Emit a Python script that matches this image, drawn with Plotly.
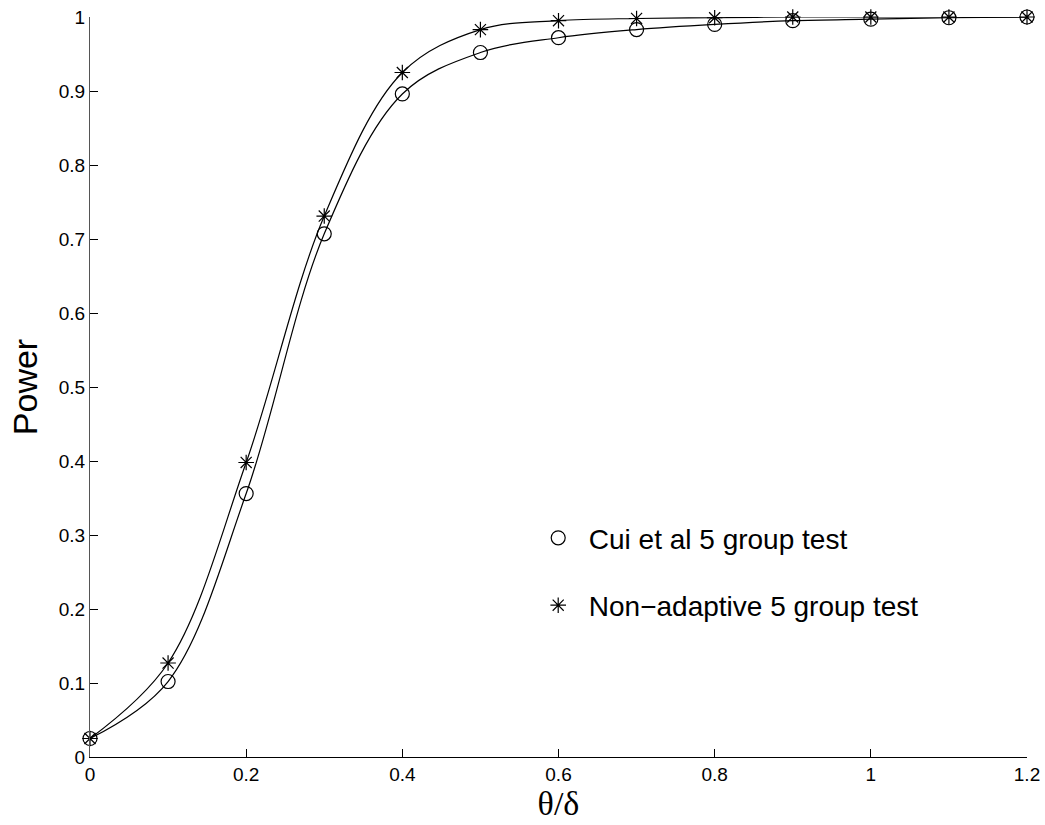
import plotly.graph_objects as go

theta = [0.0, 0.1, 0.2, 0.3, 0.4, 0.5, 0.6, 0.7, 0.8, 0.9, 1.0, 1.1, 1.2]
cui_power = [0.025, 0.102, 0.356, 0.707, 0.896, 0.952, 0.972, 0.983, 0.990, 0.995, 0.997, 0.999, 1.0]
nonadaptive_power = [0.025, 0.127, 0.398, 0.731, 0.925, 0.983, 0.995, 0.998, 0.999, 1.0, 1.0, 1.0, 1.0]

x_ticks = [0, 0.2, 0.4, 0.6, 0.8, 1, 1.2]
x_tick_labels = ["0", "0.2", "0.4", "0.6", "0.8", "1", "1.2"]
y_ticks = [0, 0.1, 0.2, 0.3, 0.4, 0.5, 0.6, 0.7, 0.8, 0.9, 1]
y_tick_labels = ["0", "0.1", "0.2", "0.3", "0.4", "0.5", "0.6", "0.7", "0.8", "0.9", "1"]

SANS = "Liberation Sans"
SERIF = "Liberation Serif"

fig = go.Figure()

# smooth curves
fig.add_trace(go.Scatter(x=theta, y=cui_power, mode="lines",
                         line=dict(color="black", width=1.2, shape="spline", smoothing=1.0),
                         showlegend=False, hoverinfo="skip", cliponaxis=False))
fig.add_trace(go.Scatter(x=theta, y=nonadaptive_power, mode="lines",
                         line=dict(color="black", width=1.2, shape="spline", smoothing=1.0),
                         showlegend=False, hoverinfo="skip", cliponaxis=False))

# markers
fig.add_trace(go.Scatter(x=theta, y=cui_power, mode="markers", name="\u2009Cui et al 5 group test",
                         legendgroup="a", cliponaxis=False,
                         marker=dict(symbol="circle-open", size=14, color="black",
                                     line=dict(width=1.2, color="black"))))
fig.add_trace(go.Scatter(x=theta, y=nonadaptive_power, mode="markers", name="\u2009Non\u2212adaptive 5 group test",
                         legendgroup="b", cliponaxis=False,
                         marker=dict(symbol="asterisk-open", size=13, color="black",
                                     line=dict(width=1.2, color="black"))))

fig.update_layout(
    width=1045, height=825,
    margin=dict(l=90, r=18, t=17, b=68, autoexpand=False),
    paper_bgcolor="white", plot_bgcolor="white",
    font=dict(family=SANS, color="black"),
    legend=dict(x=0.473, y=0.3296, xanchor="left", yanchor="top",
                font=dict(size=28, family=SANS),
                bgcolor="rgba(0,0,0,0)", traceorder="grouped", tracegroupgap=28,
                itemwidth=40, itemsizing="trace"),
    xaxis=dict(range=[0, 1.2], tickvals=x_ticks, ticktext=x_tick_labels,
               ticks="inside", ticklen=8, tickcolor="black", tickwidth=1,
               showline=True, linecolor="black", linewidth=1, mirror=False,
               showgrid=False, zeroline=False, automargin=False,
               tickfont=dict(size=19, family=SANS),
               title=dict(text="\u03b8/\u03b4", font=dict(size=34, family=SERIF),
                          standoff=4)),
    yaxis=dict(range=[0, 1], tickvals=y_ticks, ticktext=y_tick_labels,
               ticks="inside", ticklen=8, tickcolor="black", tickwidth=1,
               showline=True, linecolor="#555555", linewidth=1, mirror=False,
               showgrid=False, zeroline=False, automargin=False,
               tickfont=dict(size=19, family=SANS),
               title=dict(text="Power", font=dict(size=34, family=SANS), standoff=10)),
)

fig.write_html("out.html", config={"displayModeBar": False},
               post_script="document.body.style.margin='0';document.body.style.overflow='hidden';")
